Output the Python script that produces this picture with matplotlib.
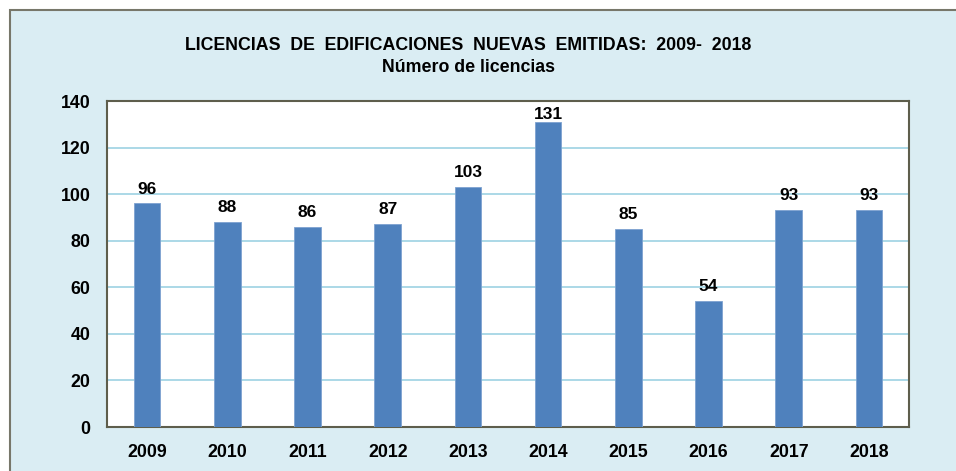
import matplotlib
matplotlib.use("Agg")
import matplotlib.pyplot as plt
from matplotlib.patches import Rectangle

years = ["2009", "2010", "2011", "2012", "2013", "2014", "2015", "2016", "2017", "2018"]
licencias = [96, 88, 86, 87, 103, 131, 85, 54, 93, 93]
yticks = [0, 20, 40, 60, 80, 100, 120, 140]

plt.rcParams['font.family'] = ['Liberation Sans', 'DejaVu Sans']
plt.rcParams['font.weight'] = 'bold'

W, H = 956, 471
fig = plt.figure(figsize=(W / 100, H / 100), dpi=100)
fig.patch.set_facecolor('white')

# outer chart frame
frame = Rectangle((10 / W, -0.1), 1.2, (H - 10) / H + 0.1, transform=fig.transFigure,
                  facecolor='#DAEDF3', edgecolor='#77776A', linewidth=1.5, zorder=-5)
fig.patches.append(frame)

left, right, top, bottom = 107, 909, 101, 427
ax = fig.add_axes([left / W, 1 - bottom / H, (right - left) / W, (bottom - top) / H])
ax.set_zorder(2)
ax.set_facecolor('white')

x = list(range(len(years)))
ax.bar(x, licencias, width=0.33, color='#4F81BD', edgecolor='#7EA2D0', linewidth=0.6, zorder=3)
vmax = max(licencias)
for xi, v in zip(x, licencias):
    off = 0 if v == vmax else 5
    ax.annotate(str(v), (xi, v), xytext=(0, off), textcoords='offset points',
                ha='center', va='bottom', fontsize=12.5, fontweight='bold', color='black')

ax.set_xlim(-0.5, len(years) - 0.5)
ax.set_ylim(0, 140)
ax.set_yticks(yticks)
ax.set_yticklabels([str(t) for t in yticks])
ax.set_xticks(x)
ax.set_xticklabels(years)
ax.tick_params(axis='both', length=0, labelsize=12.8, pad=12)
for lab in ax.get_xticklabels() + ax.get_yticklabels():
    lab.set_fontweight('bold')
ax.yaxis.grid(True, color='#A5D5E5', linewidth=1.3, zorder=0)
ax.set_axisbelow(True)
for s in ax.spines.values():
    s.set_color('#5E5E4C')
    s.set_linewidth(1.5)

fig.text(468 / W, 1 - 45 / H, "LICENCIAS  DE  EDIFICACIONES  NUEVAS  EMITIDAS:  2009-  2018",
         ha='center', va='center', fontsize=12.8, fontweight='bold')
fig.text(468 / W, 1 - 68 / H, "Número de licencias", ha='center', va='center',
         fontsize=12.8, fontweight='bold')

fig.savefig("out.png", dpi=100)
